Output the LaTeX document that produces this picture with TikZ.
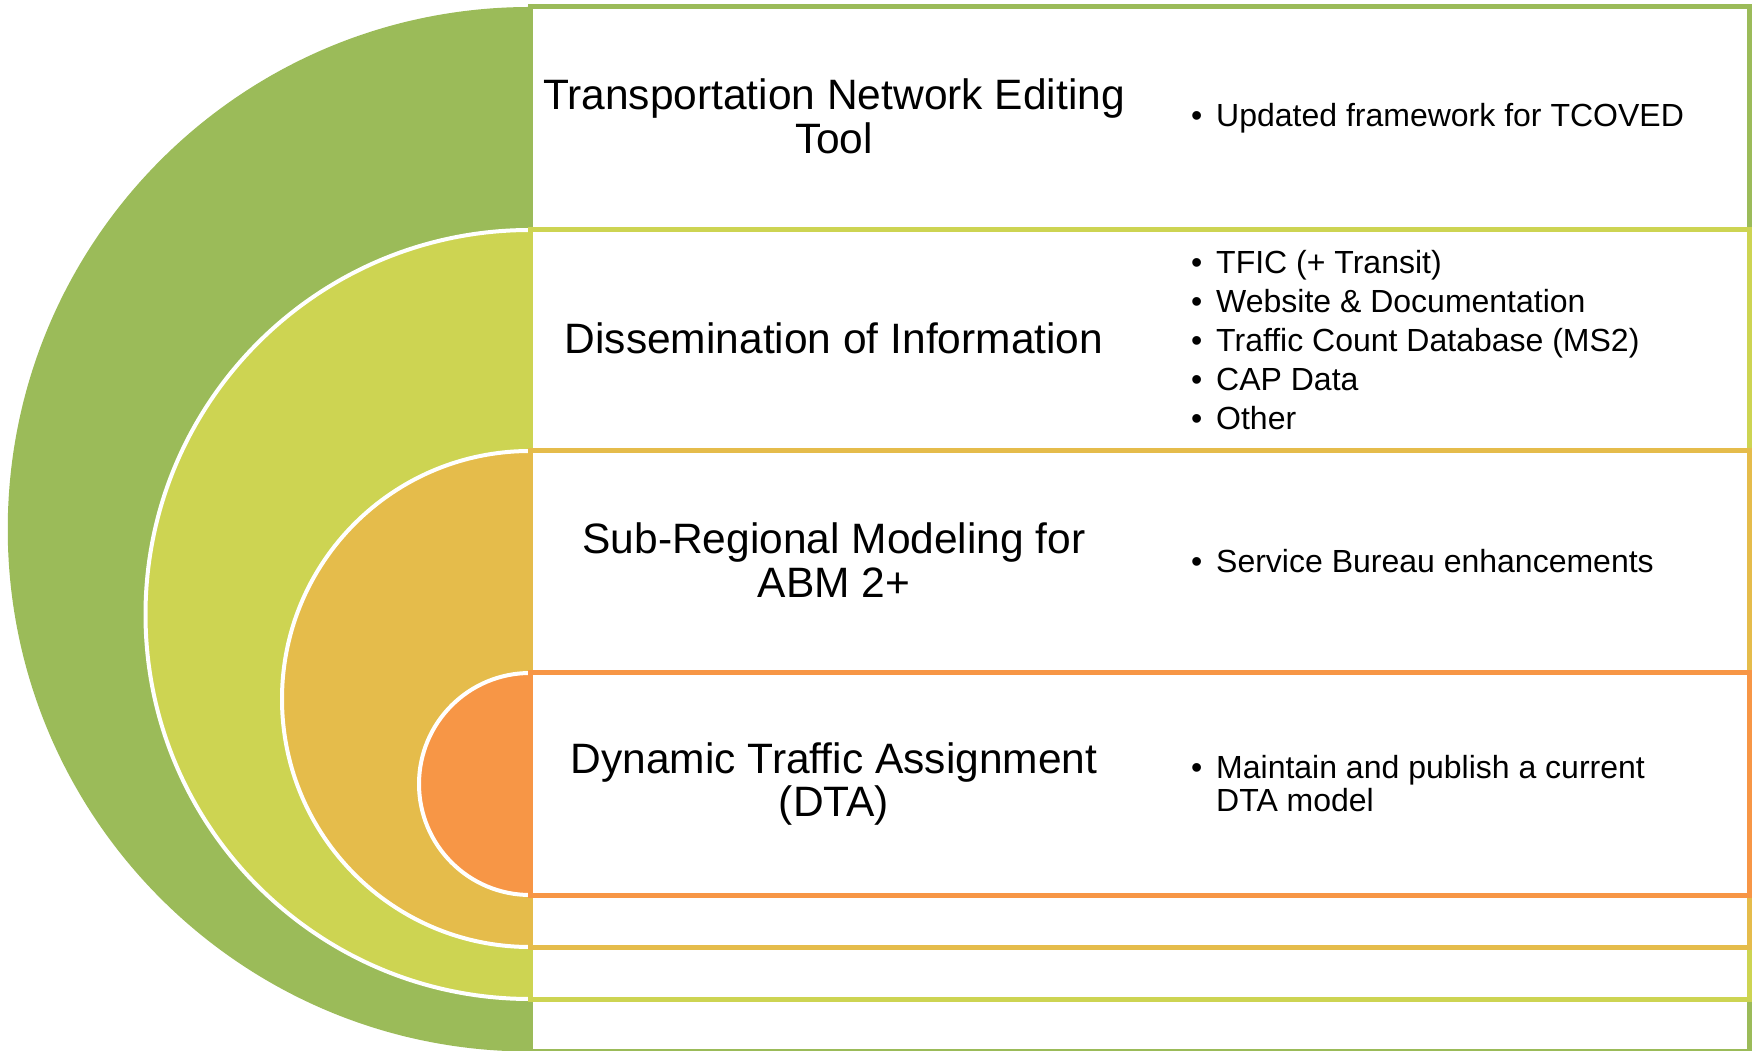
\documentclass[tikz,border=0pt]{standalone}
\usepackage{fontspec}
\setmainfont{Liberation Sans}
\definecolor{bandGreen}{HTML}{9BBB59}
\definecolor{bandLime}{HTML}{CDD452}
\definecolor{bandGold}{HTML}{E5BC4B}
\definecolor{bandOrange}{HTML}{F79646}
\tikzset{%
  % Specifications for style of bands and texts:
     halfdisc/.style = {draw=white, line width=4pt},
      bandbox/.style = {draw=#1, line width=5pt, fill=white},
        topic/.style = {inner sep=0pt, align=center,
                        font=\fontsize{42.5}{43.5}\selectfont},
       points/.style = {inner sep=0pt, align=left, anchor=west,
                        font=\fontsize{32}{33}\selectfont},
}
\newcommand{\bul}{\makebox[25pt][l]{\textbullet}}

\begin{document}
\begin{tikzpicture}[x=1pt, y=1pt]
  \useasboundingbox (0,0) rectangle (1756,1050);
  % Half discs and boxes, from the outer one to the inner one
  \fill[bandGreen] (530,1043) arc[start angle=90, end angle=270,
                                  radius=522.25] -- cycle;
  \draw[bandbox=bandGreen]  (530,1043) rectangle (1749,-1.5);
  \filldraw[halfdisc, fill=bandLime] (530,820) arc[start angle=90,
                                  end angle=270, radius=384.5] -- cycle;
  \draw[bandbox=bandLime]   (530,820) rectangle (1749,51);
  \filldraw[halfdisc, fill=bandGold] (530,599) arc[start angle=90,
                                  end angle=270, radius=248] -- cycle;
  \draw[bandbox=bandGold]   (530,599) rectangle (1749,103);
  \filldraw[halfdisc, fill=bandOrange] (530,377) arc[start angle=90,
                                  end angle=270, radius=111] -- cycle;
  \draw[bandbox=bandOrange] (530,377) rectangle (1749,155);
  % Titles of the levels
  \node (netTool) [topic] at (834,933.5) {Transportation Network Editing\\Tool};
  \node (dissem)  [topic] at (834,711.5) {Dissemination of Information};
  \node (subReg)  [topic] at (834,490)   {Sub-Regional Modeling for\\ABM 2+};
  \node (dynTA)   [topic] at (834,266)   {Dynamic Traffic Assignment\\(DTA)};
  % Bullet lists of the levels
  \node (netToolPts) [points] at (1191,931.5)
                               {\bul Updated framework for TCOVED};
  \node (dissemPts)  [points] at (1191,710)
                               {\bul TFIC (+ Transit)\\[6pt]
                                \bul Website \& Documentation\\[6pt]
                                \bul Traffic Count Database (MS2)\\[6pt]
                                \bul CAP Data\\[6pt]
                                \bul Other};
  \node (subRegPts)  [points] at (1191,488.5)
                               {\bul Service Bureau enhancements};
  \node (dynTAPts)   [points] at (1191,266)
                               {\bul Maintain and publish a current\\
                                \hspace*{25pt}DTA model};
\end{tikzpicture}
\end{document}
